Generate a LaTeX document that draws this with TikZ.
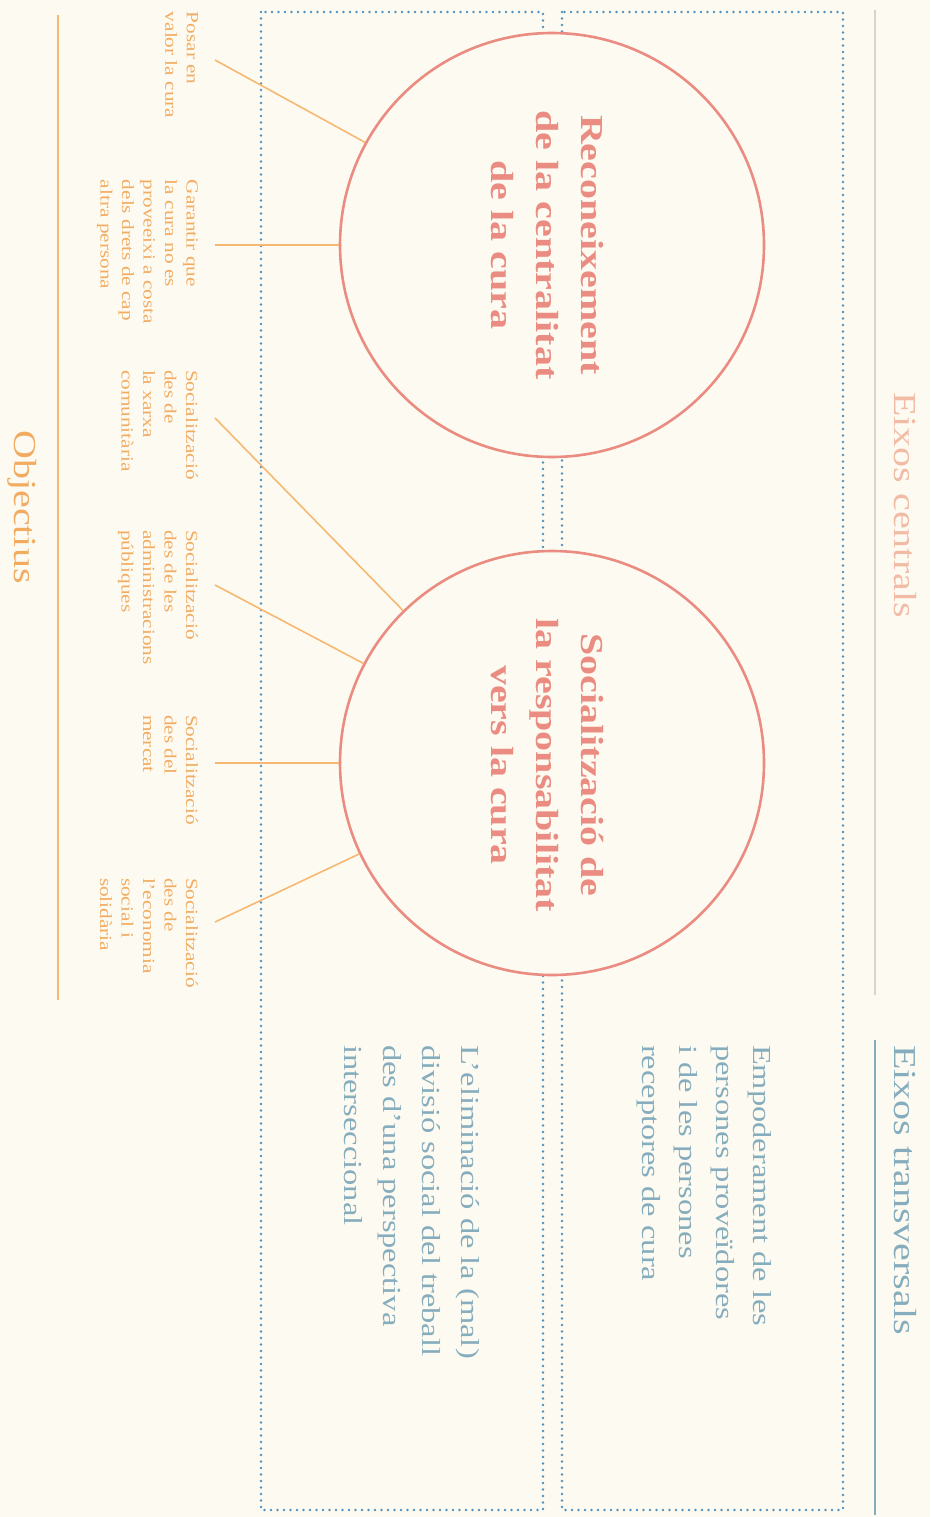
\documentclass[tikz,border=0pt]{standalone}
\usepackage{fontspec}
\setmainfont[FakeStretch=1.25]{Liberation Serif}
\definecolor{bg}{HTML}{FDFBF1}
\definecolor{salmon}{HTML}{EA8C82}
\definecolor{orng}{HTML}{F6B872}
\definecolor{objtxt}{HTML}{F2AC62}
\definecolor{dotblue}{HTML}{4F92C0}
\definecolor{tealtxt}{HTML}{86ADBD}
\definecolor{peach}{HTML}{F2BBA6}
\definecolor{greyline}{HTML}{D9D3CB}
\begin{document}
\begin{tikzpicture}[x=1pt,y=-1pt,
  rot/.style={rotate=-90, inner sep=0pt, outer sep=0pt},
  objtext/.style={rot, anchor=north west, align=left, text=objtxt, font=\fontsize{17}{21.5}\selectfont},
  transtext/.style={rot, anchor=north west, align=left, text=tealtxt, font=\fontsize{26}{37}\selectfont},
  header/.style={rot, font=\fontsize{32}{38}\selectfont},
  circ/.style={circle, draw=salmon, line width=2.6pt, fill=bg, minimum size=424pt, inner sep=0pt},
  circtext/.style={rot, align=center, text=salmon, font=\bfseries\fontsize{32}{45}\selectfont},
  conn/.style={draw=orng, line width=1.6pt},
  dotbox/.style={draw=dotblue, line width=2.7pt, dash pattern=on 0pt off 6.5pt, line cap=round}
]
\fill[bg] (0,0) rectangle (930,1517);
\useasboundingbox (0,0) rectangle (930,1517);

% dotted boxes
\draw[dotbox] (261,12) rectangle (543,1510);
\draw[dotbox] (562,12) rectangle (843,1510);

% header rules
\coordinate (ga) at (58,15);
\coordinate (gb) at (58,1000);
\draw[draw=orng, line width=1.3pt] (ga) -- (gb);
\coordinate (ca) at (875,10);
\coordinate (cb) at (875,995);
\draw[draw=greyline, line width=1.3pt] (ca) -- (cb);
\coordinate (ta) at (875,1040);
\coordinate (tb) at (875,1515);
\draw[draw=tealtxt, line width=1.3pt] (ta) -- (tb);

% headers
\node[header, text=objtxt] (hobj) at (22,507) {Objectius};
\node[header, text=peach] (hcen) at (905,505) {Eixos centrals};
\node[header, text=tealtxt, anchor=west] (htra) at (905,1045) {Eixos transversals};

% circles
\node[circ] (c1) at (552,245) {};
\node[circ] (c2) at (552,763) {};
\node[circtext] (t1) at (547,245) {Reconeixement\\de la centralitat\\de la cura};
\node[circtext] (t2) at (547,765) {Socialització de\\la responsabilitat\\vers la cura};

% transversal texts
\node[transtext] (e1) at (772,1045) {Empoderament de les\\persones proveïdores\\i de les persones\\receptores de cura};
\node[transtext, font=\fontsize{26}{39}\selectfont] (e2) at (480,1045) {L'eliminació de la (mal)\\divisió social del treball\\des d'una perspectiva\\interseccional};

% objectives
\node[objtext] (b1) at (198,12) {Posar en\\valor la cura};
\node[objtext] (b2) at (198,180) {Garantir que\\la cura no es\\proveeixi a costa\\dels drets de cap\\altra persona};
\node[objtext] (b3) at (198,370) {Socialització\\des de\\la xarxa\\comunitària};
\node[objtext] (b4) at (198,530) {Socialització\\des de les\\administracions\\públiques};
\node[objtext] (b5) at (198,715) {Socialització\\des del\\mercat};
\node[objtext] (b6) at (198,878) {Socialització\\des de\\l'economia\\social i\\solidària};

% connectors
\coordinate (o1) at (215,60);
\coordinate (o2) at (215,245);
\coordinate (o3) at (215,418);
\coordinate (o4) at (215,585);
\coordinate (o5) at (215,763);
\coordinate (o6) at (215,922);
\draw[conn] (o1) -- (c1);
\draw[conn] (o2) -- (c1);
\draw[conn] (o3) -- (c2);
\draw[conn] (o4) -- (c2);
\draw[conn] (o5) -- (c2);
\draw[conn] (o6) -- (c2);
\end{tikzpicture}
\end{document}
